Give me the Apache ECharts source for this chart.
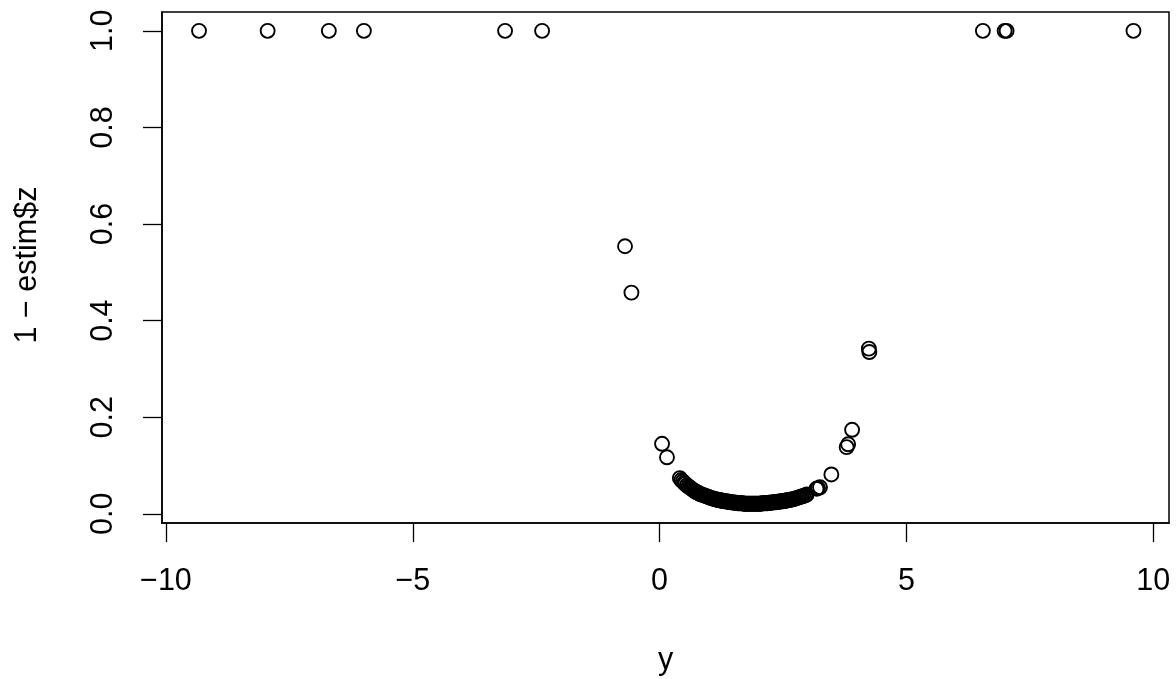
<!DOCTYPE html>
<html>
<head>
<meta charset="utf-8">
<script src="https://cdn.jsdelivr.net/npm/echarts@6/dist/echarts.min.js"></script>
<style>
html,body{margin:0;padding:0;background:#fff;}
#chart{width:1176px;height:679px;}
</style>
</head>
<body>
<div id="chart"></div>
<script>
// Values
// points at the top (1 - estim$z = 1)
var topX = [-9.33, -7.94, -6.70, -5.99, -3.13, -2.38, 6.55, 6.99, 7.03, 9.60];
var topY = [1, 1, 1, 1, 1, 1, 1, 1, 1, 1];
// scattered points outside the dense bowl
var otherX = [-0.70, -0.57, 0.05, 0.15, 3.18, 3.21, 3.25, 3.48, 3.79, 3.82, 3.90, 4.24, 4.25];
var otherY = [0.554, 0.458, 0.145, 0.117, 0.052, 0.053, 0.055, 0.0815, 0.138, 0.144, 0.174, 0.342, 0.335];
// dense bowl of points
var bowlX = [
  0.41, 0.44, 0.47, 0.50, 0.52, 0.55, 0.58, 0.61, 0.63, 0.67,
  0.70, 0.72, 0.74, 0.77, 0.79, 0.82, 0.85, 0.88, 0.90, 0.93,
  0.96, 0.99, 1.01, 1.04, 1.06, 1.08, 1.10, 1.13, 1.15, 1.17,
  1.19, 1.22, 1.24, 1.26, 1.28, 1.31, 1.33, 1.35, 1.37, 1.39,
  1.41, 1.43, 1.45, 1.48, 1.50, 1.52, 1.54, 1.56, 1.58, 1.60,
  1.62, 1.64, 1.66, 1.68, 1.70, 1.72, 1.74, 1.76, 1.78, 1.80,
  1.82, 1.84, 1.86, 1.88, 1.90, 1.92, 1.94, 1.96, 1.98, 2.00,
  2.02, 2.04, 2.06, 2.08, 2.10, 2.12, 2.14, 2.17, 2.19, 2.21,
  2.23, 2.25, 2.27, 2.30, 2.32, 2.34, 2.36, 2.39, 2.41, 2.43,
  2.45, 2.48, 2.50, 2.53, 2.55, 2.58, 2.60, 2.63, 2.65, 2.68,
  2.70, 2.73, 2.76, 2.79, 2.82, 2.85, 2.88, 2.91, 2.95, 2.98
];
var bowlY = [
  0.074, 0.070, 0.067, 0.064, 0.062, 0.059, 0.057, 0.055, 0.053, 0.050,
  0.048, 0.047, 0.045, 0.044, 0.043, 0.041, 0.040, 0.039, 0.038, 0.037,
  0.036, 0.035, 0.034, 0.033, 0.032, 0.032, 0.031, 0.030, 0.030, 0.029,
  0.029, 0.028, 0.028, 0.027, 0.027, 0.026, 0.026, 0.026, 0.025, 0.025,
  0.025, 0.024, 0.024, 0.024, 0.023, 0.023, 0.023, 0.023, 0.022, 0.022,
  0.022, 0.022, 0.022, 0.022, 0.021, 0.021, 0.021, 0.021, 0.021, 0.021,
  0.021, 0.021, 0.021, 0.021, 0.021, 0.021, 0.021, 0.021, 0.021, 0.021,
  0.021, 0.021, 0.021, 0.022, 0.022, 0.022, 0.022, 0.022, 0.022, 0.023,
  0.023, 0.023, 0.023, 0.024, 0.024, 0.024, 0.024, 0.025, 0.025, 0.025,
  0.026, 0.026, 0.026, 0.027, 0.027, 0.028, 0.028, 0.029, 0.029, 0.030,
  0.030, 0.031, 0.032, 0.033, 0.034, 0.035, 0.036, 0.037, 0.038, 0.040
];
var xTicks = [-10, -5, 0, 5, 10];
var yTicks = [0, 0.2, 0.4, 0.6, 0.8, 1.0];
var xTickLabels = ['\u221210', '\u22125', '0', '5', '10'];
var yTickLabels = ['0.0', '0.2', '0.4', '0.6', '0.8', '1.0'];
var xTitle = 'y';
var yTitle = '1 \u2212 estim$z';

function pairs(xs, ys) { return xs.map(function (v, i) { return [v, ys[i]]; }); }
var points = pairs(topX, topY).concat(pairs(otherX, otherY), pairs(bowlX, bowlY));
var font = '"Liberation Sans", Arial, Helvetica, sans-serif';
var fs = 30.5;

var chart = echarts.init(document.getElementById('chart'), null, {renderer: 'canvas'});
chart.setOption({
  animation: false,
  backgroundColor: '#ffffff',
  grid: {
    left: 162, right: 7, top: 12, bottom: 156,
    show: true, borderColor: '#000', borderWidth: 1.5, backgroundColor: 'transparent'
  },
  xAxis: {
    type: 'value',
    min: -10.08, max: 10.32,
    axisLine: {show: true, onZero: false, lineStyle: {color: '#000', width: 1.5}},
    axisTick: {show: true, customValues: xTicks, length: 19, lineStyle: {color: '#000', width: 1.3}},
    axisLabel: {
      show: true, customValues: xTicks, margin: 43,
      fontSize: fs, lineHeight: fs, color: '#000', fontFamily: font,
      formatter: function (v) { var i = xTicks.indexOf(v); return i >= 0 ? xTickLabels[i] : ''; }
    },
    splitLine: {show: false}
  },
  yAxis: {
    type: 'value',
    min: -0.019, max: 1.039,
    axisLine: {show: true, onZero: false, lineStyle: {color: '#000', width: 1.5}},
    axisTick: {show: true, customValues: yTicks, length: 19, lineStyle: {color: '#000', width: 1.3}},
    axisLabel: {
      show: true, customValues: yTicks, margin: 43, rotate: 90,
      fontSize: fs, lineHeight: fs, color: '#000', fontFamily: font,
      formatter: function (v) {
        for (var i = 0; i < yTicks.length; i++) { if (Math.abs(yTicks[i] - v) < 1e-9) return yTickLabels[i]; }
        return '';
      }
    },
    splitLine: {show: false}
  },
  graphic: [
    {type: 'text', x: 665.5, y: 661, style: {text: xTitle, fontSize: fs, fontFamily: font, fill: '#000', align: 'center', verticalAlign: 'middle'}},
    {type: 'text', x: 28, y: 265, rotation: Math.PI / 2, style: {text: yTitle, fontSize: fs, fontFamily: font, fill: '#000', align: 'center', verticalAlign: 'middle'}}
  ],
  series: [{
    type: 'scatter',
    data: points,
    symbol: 'circle',
    symbolSize: 14,
    itemStyle: {color: 'rgba(0,0,0,0)', borderColor: '#000', borderWidth: 1.9, opacity: 1},
    emphasis: {disabled: true}
  }]
});
</script>
</body>
</html>
